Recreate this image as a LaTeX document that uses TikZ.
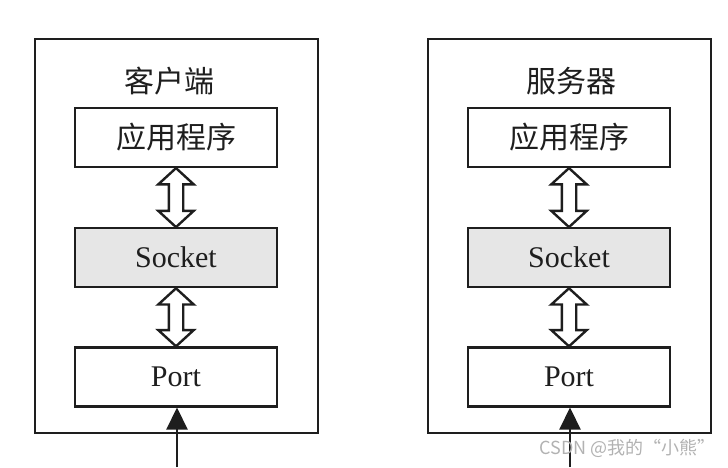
\documentclass[tikz,border=0pt]{standalone}
\usepackage{fontspec}
\setmainfont{Liberation Serif}
\newfontfamily\cjk{Noto Sans CJK SC}
\usetikzlibrary{positioning,calc,shapes.arrows,arrows.meta}
\definecolor{inkgray}{RGB}{30,30,30}
\definecolor{sockfill}{RGB}{230,230,230}
\tikzset{
  hostbox/.style={draw=inkgray, line width=2.2pt, minimum width=283pt, minimum height=394pt, inner sep=0pt},
  layerbox/.style={draw=inkgray, line width=2.2pt, fill=white, minimum width=202pt, minimum height=59pt, inner sep=0pt, text=inkgray},
  hosttitle/.style={text=inkgray, inner sep=0pt},
  dblarrow/.style={double arrow, draw=inkgray, line width=2.4pt, fill=white, shape border rotate=90,
    minimum height=59pt, minimum width=33pt, inner sep=6pt, double arrow head extend=10.5pt, double arrow tip angle=95},
  inlink/.style={draw=inkgray, line width=2.2pt, -{Triangle[length=22pt, width=21pt]}}
}
\begin{document}
\begin{tikzpicture}[x=1pt, y=-1pt, font=\fontsize{30}{36}\selectfont]
  \useasboundingbox (0,0) rectangle (728,467);
  \foreach \side/\xc/\tx/\name in {cli/176/169/客户端, srv/569/571/服务器}{
    % 主机外框
    \node[hostbox] (\side-host) at (\xc+0.5,236) {};
    \node[hosttitle] (\side-title) at (\tx,81) {\cjk \name};
    % 三层
    \node[layerbox] (\side-app) at (\xc,137.5) {\cjk 应用程序};
    \node[layerbox, fill=sockfill, below=59pt of \side-app] (\side-sock) {Socket};
    \node[layerbox, below=58pt of \side-sock] (\side-port) {Port};
    % 双向箭头
    \node[dblarrow] (\side-up) at ($(\side-app.south)!0.5!(\side-sock.north)$) {};
    \node[dblarrow, minimum height=58pt] (\side-down) at ($(\side-sock.south)!0.5!(\side-port.north)$) {};
    % 外部连线
    \coordinate (\side-in) at (\xc+1,467);
    \draw[inlink] (\side-in) -- (\side-in |- \side-port.south);
  }
  \node[font=\cjk\fontsize{18}{21}\selectfont, text=gray!60, anchor=east, inner sep=0pt] (mark) at (716,448) {CSDN @我的“小熊”};
\end{tikzpicture}
\end{document}
